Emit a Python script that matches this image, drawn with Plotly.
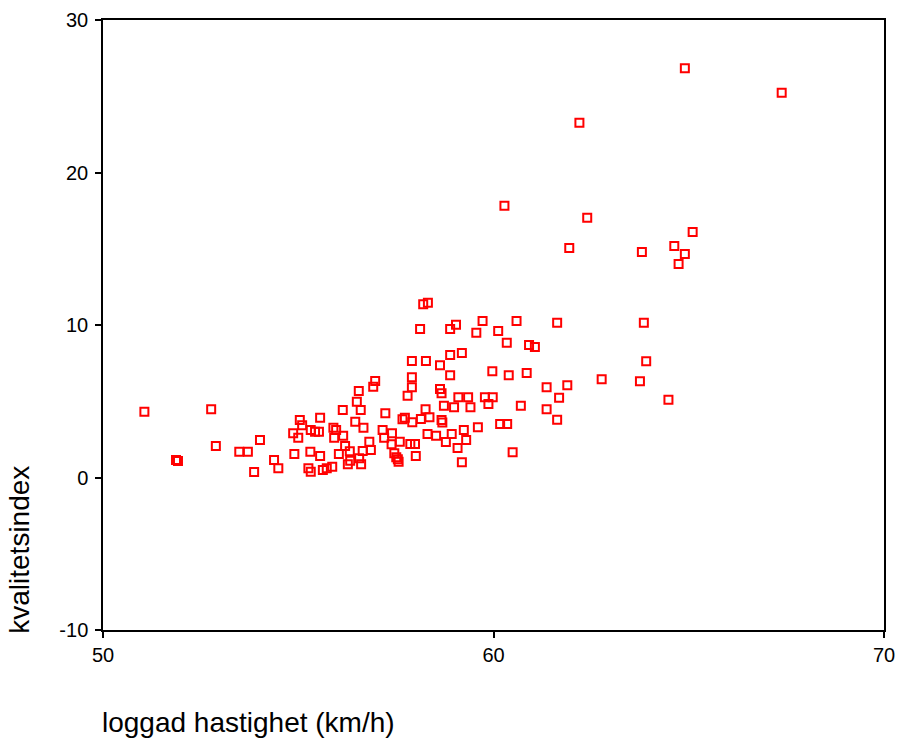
import plotly.graph_objects as go

speed = [
    51.06, 51.87, 51.92, 52.77, 52.89, 53.49, 53.71, 54.02, 53.87, 54.38,
    54.49, 54.90, 54.87, 55.00, 55.04, 55.10, 55.56, 55.32, 55.43, 55.53,
    55.90, 55.92, 56.14, 56.15, 55.31, 55.56, 56.04, 56.20, 55.26, 55.32,
    55.63, 55.73, 55.87, 56.97, 56.92, 56.55, 56.50, 56.60, 57.23, 56.46,
    56.67, 57.73, 57.67, 57.92, 55.97, 57.16, 57.40, 57.20, 56.82, 57.39,
    57.60, 56.86, 56.32, 56.65, 57.46, 56.27, 56.33, 56.56, 56.61, 57.51,
    57.55, 57.57, 58.20, 58.32, 58.12, 58.89, 59.04, 59.72, 59.56, 60.12,
    60.59, 60.34, 60.91, 61.06, 58.89, 59.19, 57.91, 58.27, 58.63, 58.89,
    59.97, 60.39, 60.85, 57.91, 57.91, 61.36, 58.63, 58.67, 57.80, 59.10,
    59.35, 59.78, 59.98, 59.87, 58.73, 58.99, 59.41, 60.70, 61.36, 58.26,
    58.14, 58.36, 58.67, 58.69, 59.24, 59.60, 60.17, 60.35, 58.31, 58.53,
    58.93, 58.78, 59.30, 57.87, 57.99, 59.08, 58.01, 60.49, 59.19, 64.90,
    67.38, 62.20, 60.28, 62.40, 65.10, 64.63, 64.90, 61.94, 63.80, 64.74,
    61.63, 63.85, 63.91, 62.77, 63.75, 61.89, 61.68, 64.48, 61.63,
]

quality = [
    4.31, 1.15, 1.08, 4.47, 2.07, 1.69, 1.69, 2.46, 0.36, 1.15,
    0.60, 1.54, 2.90, 2.61, 3.77, 3.42, 3.92, 3.11, 3.00, 3.00,
    3.27, 2.61, 4.43, 2.74, 1.69, 1.41, 1.54, 2.07, 0.60, 0.38,
    0.49, 0.60, 0.71, 6.33, 5.95, 5.67, 4.97, 4.43, 4.21, 3.66,
    3.27, 3.92, 3.82, 3.62, 3.11, 3.11, 2.90, 2.61, 2.35, 2.18,
    2.35, 1.80, 1.72, 1.74, 1.59, 0.87, 1.10, 1.26, 0.87, 1.32,
    1.19, 1.04, 11.36, 11.46, 9.74, 9.74, 10.02, 10.26, 9.50, 9.61,
    10.26, 8.84, 8.69, 8.56, 8.03, 8.16, 7.64, 7.64, 7.36, 6.70,
    6.96, 6.70, 6.85, 6.57, 5.91, 5.91, 5.80, 5.52, 5.36, 5.26,
    5.26, 5.26, 5.26, 4.82, 4.71, 4.60, 4.60, 4.71, 4.47, 4.47,
    3.84, 3.95, 3.77, 3.60, 3.11, 3.29, 3.51, 3.51, 2.85, 2.74,
    2.85, 2.33, 2.46, 2.20, 2.20, 1.93, 1.41, 1.66, 1.00, 26.83,
    25.23, 23.27, 17.82, 17.04, 16.10, 15.18, 14.66, 15.05, 14.79, 14.00,
    10.15, 10.15, 7.62, 6.44, 6.31, 6.05, 5.23, 5.10, 3.79,
]

x_ticks = [50, 60, 70]
y_ticks = [-10, 0, 10, 20, 30]
x_title = "loggad hastighet (km/h)"
y_title = "kvalitetsindex"

FONT = "Liberation Sans, Arial, sans-serif"

fig = go.Figure()
fig.add_trace(go.Scatter(
    x=speed, y=quality, mode="markers",
    marker=dict(symbol="square-open", size=8, color="#ff0000",
                line=dict(width=2, color="#ff0000")),
    showlegend=False, hoverinfo="x+y",
))

axis_common = dict(
    showgrid=False, zeroline=False, automargin=False,
    showline=True, linecolor="black", linewidth=1.5, mirror=True,
    ticks="outside", ticklen=6, tickwidth=1.5, tickcolor="black",
    tickfont=dict(family=FONT, size=20, color="black"),
    ticklabeloverflow="allow",
)

fig.update_xaxes(range=[50, 70], tickvals=x_ticks,
                 ticktext=[str(v) for v in x_ticks], **axis_common)
fig.update_yaxes(range=[-10, 30], tickvals=y_ticks,
                 ticktext=[str(v) for v in y_ticks], ticklabelstandoff=3,
                 **axis_common)

fig.update_layout(
    width=900, height=738,
    margin=dict(l=103, r=16, t=20, b=108, pad=0, autoexpand=False),
    plot_bgcolor="white", paper_bgcolor="white",
    font=dict(family=FONT, color="black"),
    annotations=[
        dict(text=x_title, xref="paper", yref="paper",
             x=-0.004, y=-0.151, xanchor="left", yanchor="middle",
             showarrow=False, font=dict(family=FONT, size=28, color="black")),
        dict(text=y_title, xref="paper", yref="paper", textangle=-90,
             x=-0.108, y=-0.01, xanchor="center", yanchor="bottom",
             showarrow=False, font=dict(family=FONT, size=28, color="black")),
    ],
)

fig.write_html(
    "out.html",
    config={"displayModeBar": False},
    post_script="document.body.style.margin='0';document.body.style.overflow='hidden';",
)
